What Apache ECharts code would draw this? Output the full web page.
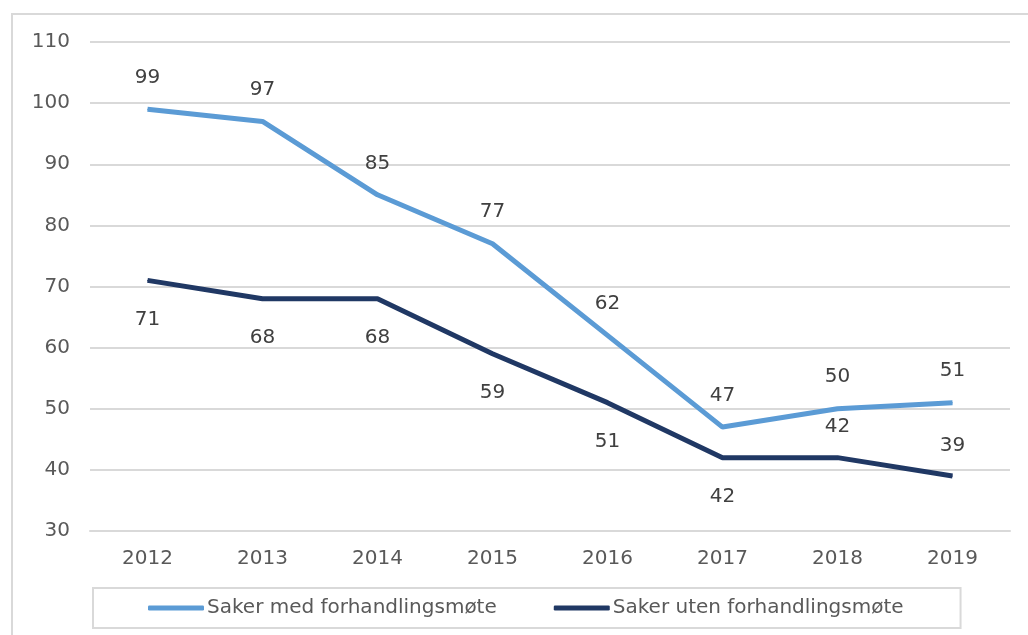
<!DOCTYPE html>
<html>
<head>
<meta charset="utf-8">
<script src="https://cdn.jsdelivr.net/npm/echarts@6/dist/echarts.min.js"></script>
<style>
  html, body { margin: 0; padding: 0; background: #fff; }
  #chart { width: 1028px; height: 635px; }
</style>
</head>
<body>
<div id="chart"></div>
<script>
const years = ['2012', '2013', '2014', '2015', '2016', '2017', '2018', '2019']
const medMote = [99, 97, 85, 77, 62, 47, 50, 51]
const utenMote = [71, 68, 68, 59, 51, 42, 42, 39]
// which labels of the dark series sit above the line
const utenAbove = [false, false, false, false, false, false, true, true]

const font = 'DejaVu Sans'
const textColor = '#595959'

const chartDom = document.getElementById('chart')
const myChart = echarts.init(chartDom)

const option = {
  animation: false,
  backgroundColor: '#fff',
  textStyle: { fontFamily: font },
  graphic: [{
    type: 'rect',
    shape: { x: 12, y: 14, width: 1100, height: 700 },
    style: { fill: 'none', stroke: '#d9d9d9', lineWidth: 2 },
    silent: true
  }],
  grid: { left: 90, right: 18, top: 42, bottom: 104 },
  legend: {
    left: 93,
    top: 588,
    padding: [10, 57, 10, 55],
    itemGap: 57,
    itemWidth: 56,
    itemHeight: 5,
    icon: 'roundRect',
    borderColor: '#d9d9d9',
    borderWidth: 2,
    textStyle: { fontFamily: font, fontSize: 20, color: textColor, padding: [0, 0, 0, -2] },
    data: ['Saker med forhandlingsmøte', 'Saker uten forhandlingsmøte']
  },
  xAxis: {
    type: 'category',
    data: years,
    boundaryGap: true,
    axisLine: { lineStyle: { color: '#d9d9d9', width: 2 } },
    axisTick: { show: false },
    axisLabel: { fontFamily: font, fontSize: 20, color: textColor, margin: 18 }
  },
  yAxis: {
    type: 'value',
    min: 30,
    max: 110,
    interval: 10,
    axisLine: { show: false },
    axisTick: { show: false },
    axisLabel: { fontFamily: font, fontSize: 20, color: textColor, margin: 20 },
    splitLine: { lineStyle: { color: '#d9d9d9', width: 2 } }
  },
  series: [
    {
      name: 'Saker med forhandlingsmøte',
      type: 'line',
      data: medMote,
      symbol: 'circle',
      symbolSize: 1,
      showSymbol: true,
      color: '#5b9bd5',
      lineStyle: { width: 5, color: '#5b9bd5' },
      label: {
        show: true,
        position: 'top',
        distance: 21,
        fontFamily: font,
        fontSize: 20,
        color: '#404040'
      }
    },
    {
      name: 'Saker uten forhandlingsmøte',
      type: 'line',
      data: utenMote.map((v, i) => ({
        value: v,
        label: utenAbove[i]
          ? { position: 'top', distance: 20 }
          : { position: 'bottom', distance: 29 }
      })),
      symbol: 'circle',
      symbolSize: 1,
      showSymbol: true,
      color: '#203864',
      lineStyle: { width: 5, color: '#203864' },
      label: {
        show: true,
        fontFamily: font,
        fontSize: 20,
        color: '#404040'
      }
    }
  ]
}

myChart.setOption(option)
window.onresize = function () {
  myChart.resize()
}
</script>
</body>
</html>
